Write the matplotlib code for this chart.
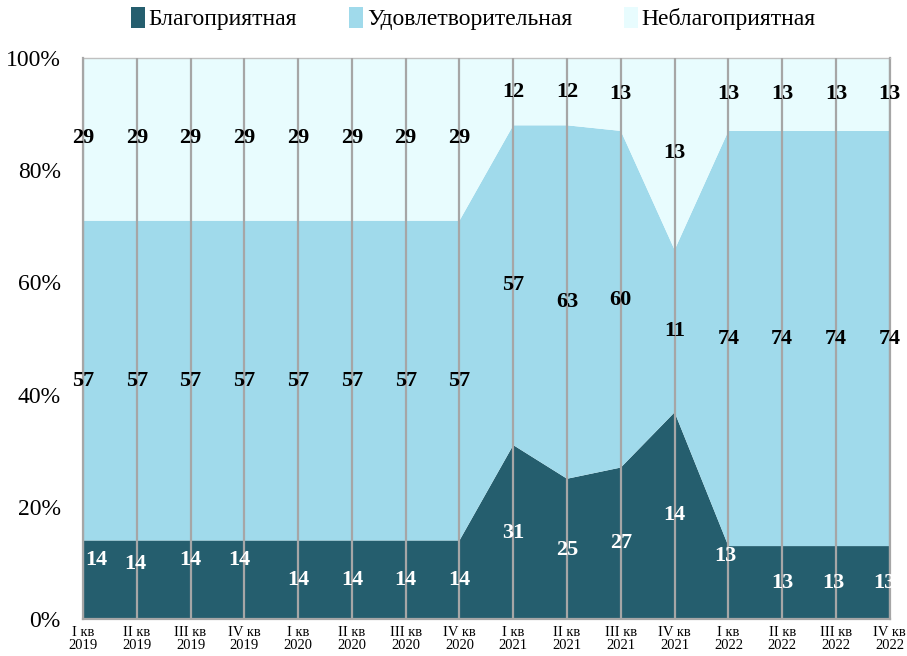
import matplotlib
matplotlib.use('Agg')
import matplotlib.pyplot as plt
import numpy as np
from matplotlib.patches import Patch

# %%
# data
quarters = ['I кв\n2019', 'II кв\n2019', 'III кв\n2019', 'IV кв\n2019',
            'I кв\n2020', 'II кв\n2020', 'III кв\n2020', 'IV кв\n2020',
            'I кв\n2021', 'II кв\n2021', 'III кв\n2021', 'IV кв\n2021',
            'I кв\n2022', 'II кв\n2022', 'III кв\n2022', 'IV кв\n2022']
series_names = ['Благоприятная', 'Удовлетворительная', 'Неблагоприятная']
good = [14, 14, 14, 14, 14, 14, 14, 14, 31, 25, 27, 14, 13, 13, 13, 13]
fair = [57, 57, 57, 57, 57, 57, 57, 57, 57, 63, 60, 11, 74, 74, 74, 74]
bad = [29, 29, 29, 29, 29, 29, 29, 29, 12, 12, 13, 13, 13, 13, 13, 13]

# label placement (percent of the axis), as positioned in the original chart
good_lab_y = [10.5, 9.8, 10.5, 10.5, 7.0, 7.0, 7.0, 7.0, 15.3, 12.3, 13.5, 18.5, 11.2, 6.4, 6.4, 6.4]
good_lab_dx = [0.25, -0.03, 0.0, -0.1, 0, 0, 0, 0, 0, 0, 0, 0, -0.05, 0, -0.05, -0.1]
fair_lab_y = [42.4] * 8 + [59.5, 56.5, 56.9, 51.3, 49.9, 49.9, 49.9, 49.9]
bad_lab_y = [85.7] * 8 + [93.9, 93.9, 93.6, 83.1, 93.6, 93.6, 93.6, 93.6]

colors = ['#255E6E', '#A0DAEB', '#E8FCFE']

# %%
vals = np.array([good, fair, bad], dtype=float)
pct = vals / vals.sum(axis=0) * 100
x = np.arange(len(quarters))

plt.rcParams['font.family'] = ['Liberation Serif', 'DejaVu Serif']

fig = plt.figure(figsize=(9.07, 6.56), dpi=100)
ax = fig.add_axes([0.0915, 0.0564, 0.8895, 0.8552])

ax.stackplot(x, pct, colors=colors, linewidth=0)

ax.set_xlim(0, len(quarters) - 1)
ax.set_ylim(0, 100)
ax.set_xticks(x)
ax.set_xticklabels(quarters, fontsize=10.5, linespacing=1.0)
ax.set_yticks(np.arange(0, 101, 20))
ax.set_yticklabels([f'{v}%' for v in range(0, 101, 20)], fontsize=17)
ax.tick_params(axis='y', length=0, pad=16)
ax.tick_params(axis='x', length=0, pad=5)

ax.set_axisbelow(False)
ax.grid(axis='x', color='#A6A6A6', linewidth=1.6)
ax.grid(axis='y', visible=False)

for s in ['left', 'bottom', 'right']:
    ax.spines[s].set_color('#A6A6A6')
    ax.spines[s].set_linewidth(1.6)
ax.spines['top'].set_color('#C0C0C0')
ax.spines['top'].set_linewidth(1.0)

# data labels
for i in x:
    ax.text(i + good_lab_dx[i], good_lab_y[i], str(good[i]), ha='center', va='center',
            fontsize=16, fontweight='bold', color='white')
    ax.text(i, fair_lab_y[i], str(fair[i]), ha='center', va='center',
            fontsize=16, fontweight='bold', color='black')
    ax.text(i, bad_lab_y[i], str(bad[i]), ha='center', va='center',
            fontsize=16, fontweight='bold', color='black', clip_on=False)

handles = [Patch(facecolor=c, edgecolor='none') for c in colors]
fig.legend(handles, series_names, loc='center', bbox_to_anchor=(0.522, 0.972), ncol=3,
           frameon=False, fontsize=17, handlelength=0.6, handleheight=1.0,
           handletextpad=0.15, columnspacing=2.2)

plt.savefig('out.png', dpi=100)
